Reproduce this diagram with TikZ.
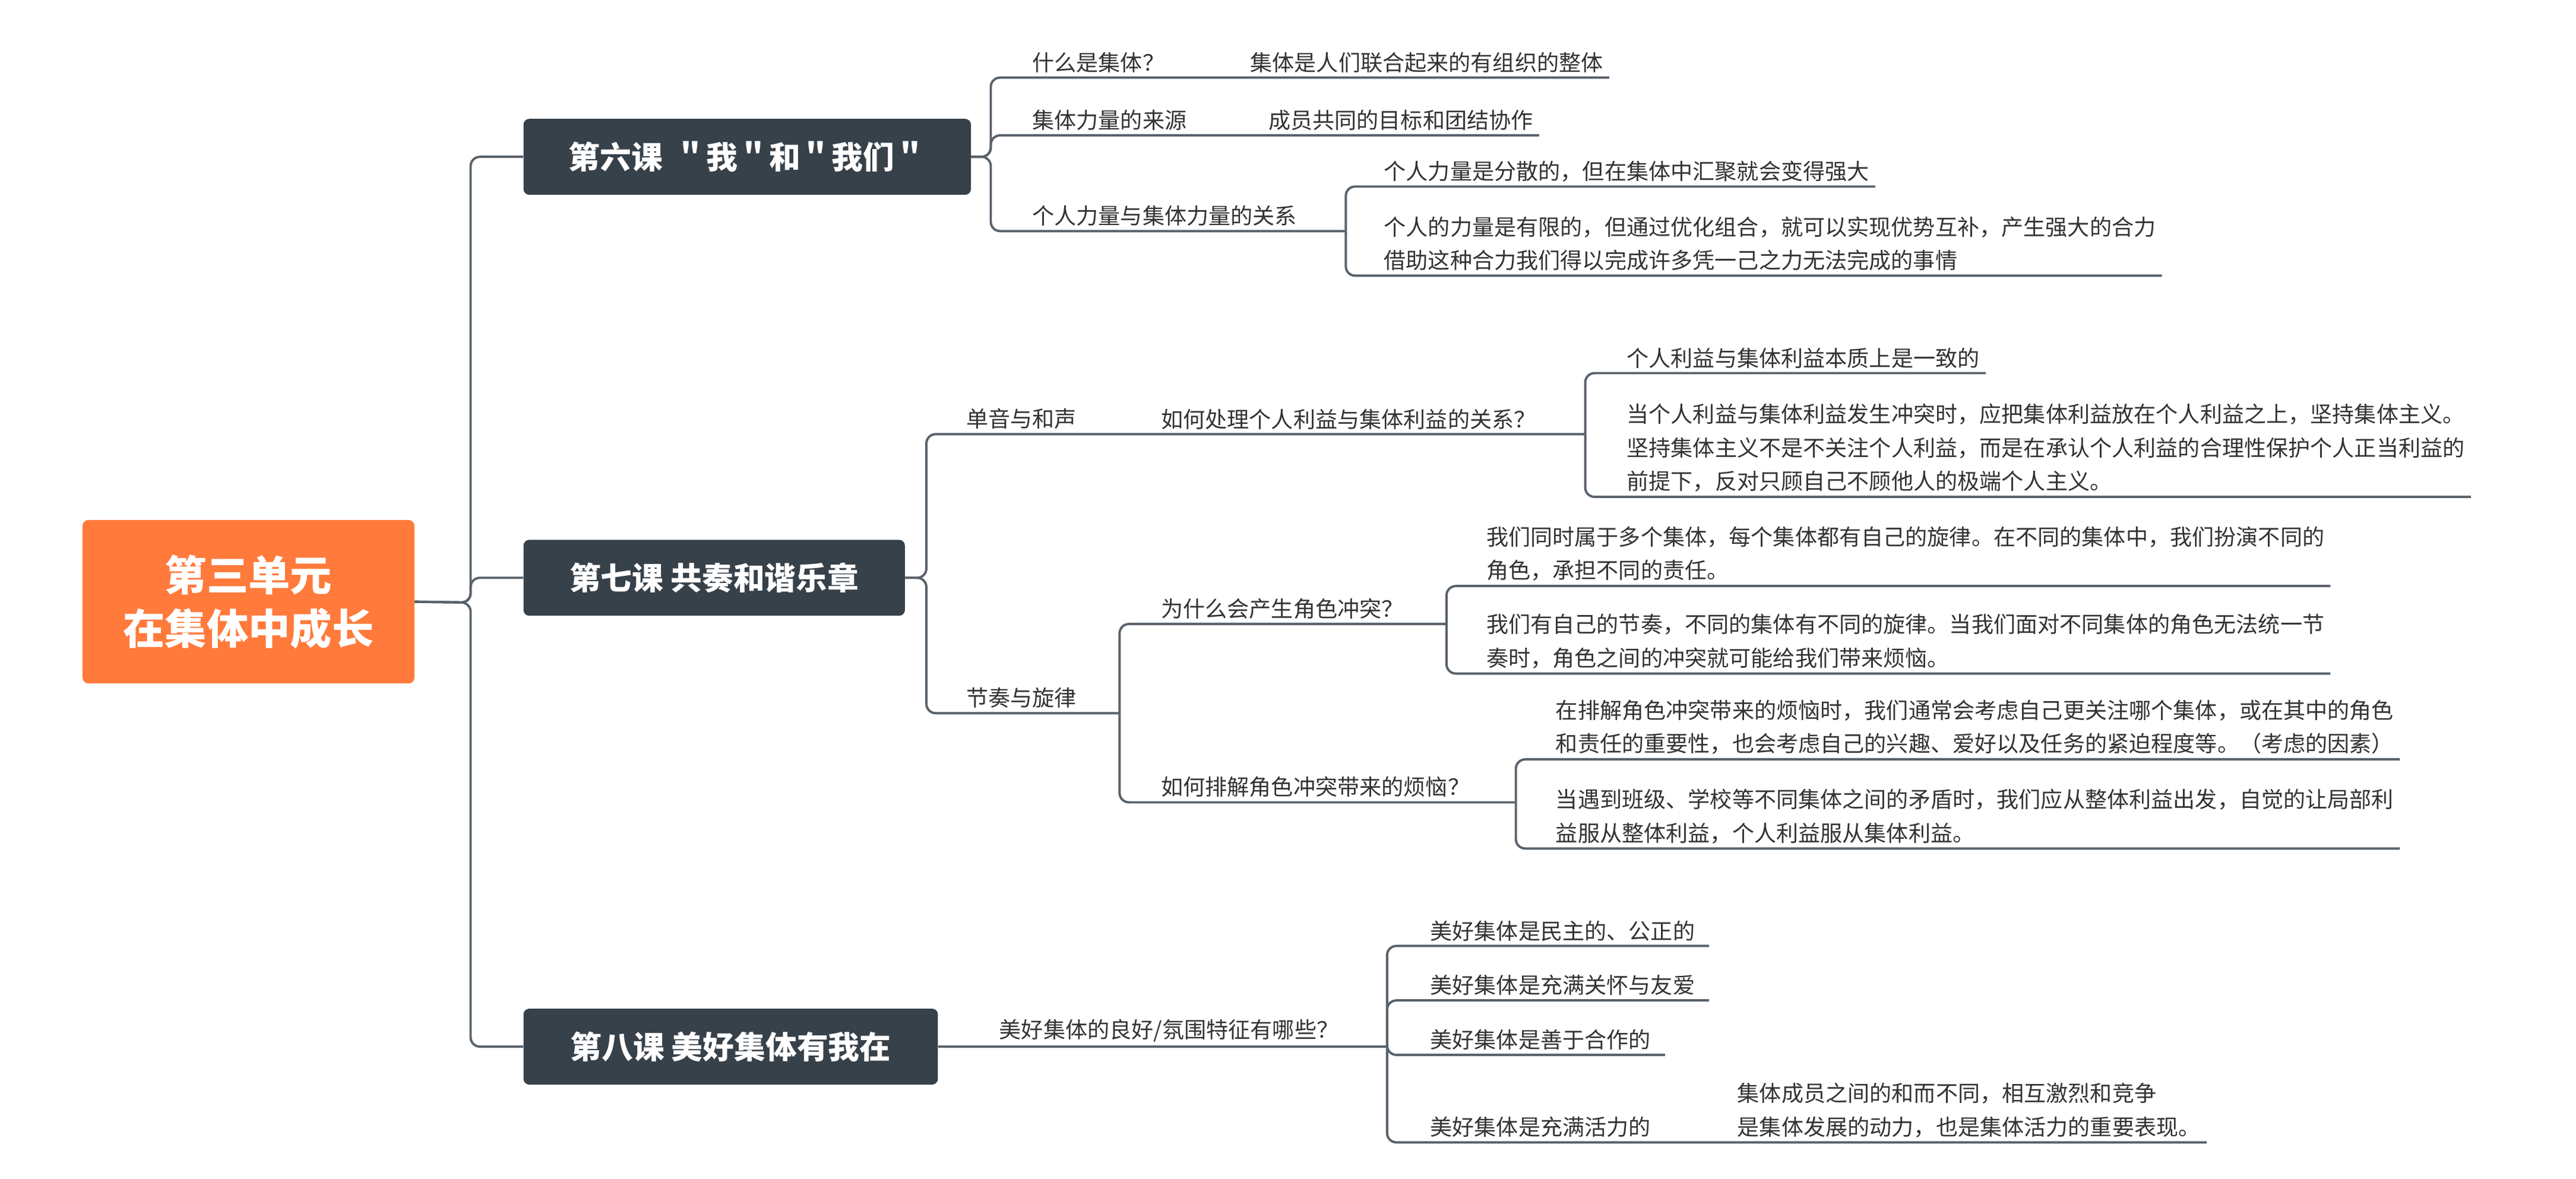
\documentclass[tikz,border=0pt]{standalone}
\usepackage{fontspec}
\setmainfont{Noto Sans CJK SC}
\definecolor{linegray}{HTML}{59626B}
\definecolor{lessonbg}{HTML}{37414A}
\definecolor{rootbg}{HTML}{FF7A3B}
\definecolor{txtgray}{HTML}{333333}
\tikzset{
  link/.style={draw=linegray, line width=2pt, rounded corners=8pt},
  lbl/.style={anchor=south west, inner xsep=0pt, inner ysep=4pt, text=txtgray,
    font=\fontsize{19}{29}\selectfont, align=left},
  topic/.style={fill=lessonbg, rounded corners=5pt, text=white,
    font=\fontsize{27}{32}\selectfont\bfseries, minimum height=2.3cm}
}
\begin{document}
\begin{tikzpicture}[x=0.05cm, y=-0.05cm]
  \useasboundingbox (0,0) rectangle (1560,714);

  % root and lessons
  \node[fill=rootbg, rounded corners=5pt, text=white, align=center,
    font=\fontsize{36}{46}\selectfont\bfseries,
    minimum width=10.05cm, minimum height=4.95cm] (root) at (150.5,364.5)
    {第三单元\\在集体中成长};
  \node[topic, minimum width=13.55cm] (l6) at (452.5,95) {第六课 \,＂我＂和＂我们＂};
  \node[topic, minimum width=11.55cm] (l7) at (432.5,350) {第七课 共奏和谐乐章};
  \node[topic, minimum width=12.55cm] (l8) at (442.5,634) {第八课 美好集体有我在};

  \coordinate (trunk) at (285,365);
  \draw[link] (root.east) -- (trunk) |- (l6.west);
  \draw[link] (root.east) -- (trunk) |- (l7.west);
  \draw[link] (root.east) -- (trunk) |- (l8.west);

  % 1. lesson six
  \coordinate (b6) at (600,95);
  \coordinate (b63) at (815,140);
  \node[lbl] (q61) at (625,47) {什么是集体？};
  \node[lbl] (a61) at (757,47) {集体是人们联合起来的有组织的整体};
  \node[lbl] (q62) at (625,82) {集体力量的来源};
  \node[lbl] (a62) at (768,82) {成员共同的目标和团结协作};
  \node[lbl] (q63) at (625,140) {个人力量与集体力量的关系};
  \node[lbl] (a631) at (838,113) {个人力量是分散的，但在集体中汇聚就会变得强大};
  \node[lbl] (a632) at (838,167) {个人的力量是有限的，但通过优化组合，就可以实现优势互补，产生强大的合力\\借助这种合力我们得以完成许多凭一己之力无法完成的事情};
  \draw[link] (l6.east) -- (b6) |- ([xshift=5pt]a61.south east);
  \draw[link] (l6.east) -- (b6) |- ([xshift=5pt]a62.south east);
  \draw[link] (l6.east) -- (b6) |- (b63);
  \draw[link] (b63) |- ([xshift=5pt]a631.south east);
  \draw[link] (b63) |- ([xshift=5pt]a632.south east);

  % 2. lesson seven
  \coordinate (b7) at (561,350);
  \coordinate (b71) at (960,263);
  \coordinate (b72) at (678,432);
  \coordinate (b721) at (876,378);
  \coordinate (b722) at (918,486);
  \node[lbl] (q71) at (585,263) {单音与和声};
  \node[lbl] (q711) at (703,263) {如何处理个人利益与集体利益的关系？};
  \node[lbl] (a711) at (985,226) {个人利益与集体利益本质上是一致的};
  \node[lbl] (a712) at (985,301) {当个人利益与集体利益发生冲突时，应把集体利益放在个人利益之上，坚持集体主义。\\坚持集体主义不是不关注个人利益，而是在承认个人利益的合理性保护个人正当利益的\\前提下，反对只顾自己不顾他人的极端个人主义。};
  \node[lbl] (q72) at (585,432) {节奏与旋律};
  \node[lbl] (q721) at (703,378) {为什么会产生角色冲突？};
  \node[lbl] (a7211) at (900,355) {我们同时属于多个集体，每个集体都有自己的旋律。在不同的集体中，我们扮演不同的\\角色，承担不同的责任。};
  \node[lbl] (a7212) at (900,408) {我们有自己的节奏，不同的集体有不同的旋律。当我们面对不同集体的角色无法统一节\\奏时，角色之间的冲突就可能给我们带来烦恼。};
  \node[lbl] (q722) at (703,486) {如何排解角色冲突带来的烦恼？};
  \node[lbl] (a7221) at (942,460) {在排解角色冲突带来的烦恼时，我们通常会考虑自己更关注哪个集体，或在其中的角色\\和责任的重要性，也会考虑自己的兴趣、爱好以及任务的紧迫程度等。（考虑的因素）};
  \node[lbl] (a7222) at (942,514) {当遇到班级、学校等不同集体之间的矛盾时，我们应从整体利益出发，自觉的让局部利\\益服从整体利益，个人利益服从集体利益。};
  \draw[link] (l7.east) -- (b7) |- (b71);
  \draw[link] (b71) |- ([xshift=5pt]a711.south east);
  \draw[link] (b71) |- ([xshift=5pt]a712.south east);
  \draw[link] (l7.east) -- (b7) |- (b72);
  \draw[link] (b72) |- (b721);
  \draw[link] (b721) |- ([xshift=5pt]a7211.south east);
  \draw[link] (b721) |- ([xshift=5pt]a7212.south east);
  \draw[link] (b72) |- (b722);
  \draw[link] (b722) |- ([xshift=5pt]a7221.south east);
  \draw[link] (b722) |- ([xshift=5pt]a7222.south east);

  % 3. lesson eight
  \coordinate (b8) at (840,634);
  \node[lbl] (q81) at (605,634) {美好集体的良好/氛围特征有哪些？};
  \node[lbl] (a81) at (866,573) {美好集体是民主的、公正的};
  \node[lbl] (a82) at (866,606) {美好集体是充满关怀与友爱};
  \node[lbl] (a83) at (866,639) {美好集体是善于合作的};
  \node[lbl] (a84) at (866,692) {美好集体是充满活力的};
  \node[lbl] (a841) at (1052,692) {集体成员之间的和而不同，相互激烈和竞争\\是集体发展的动力，也是集体活力的重要表现。};
  \draw[link] (l8.east) -- (b8);
  \draw[link] (b8) |- ([xshift=12pt]a81.south east);
  \draw[link] (b8) |- ([xshift=12pt]a82.south east);
  \draw[link] (b8) |- ([xshift=12pt]a83.south east);
  \draw[link] (b8) |- ([xshift=5pt]a841.south east);

\end{tikzpicture}
\end{document}
